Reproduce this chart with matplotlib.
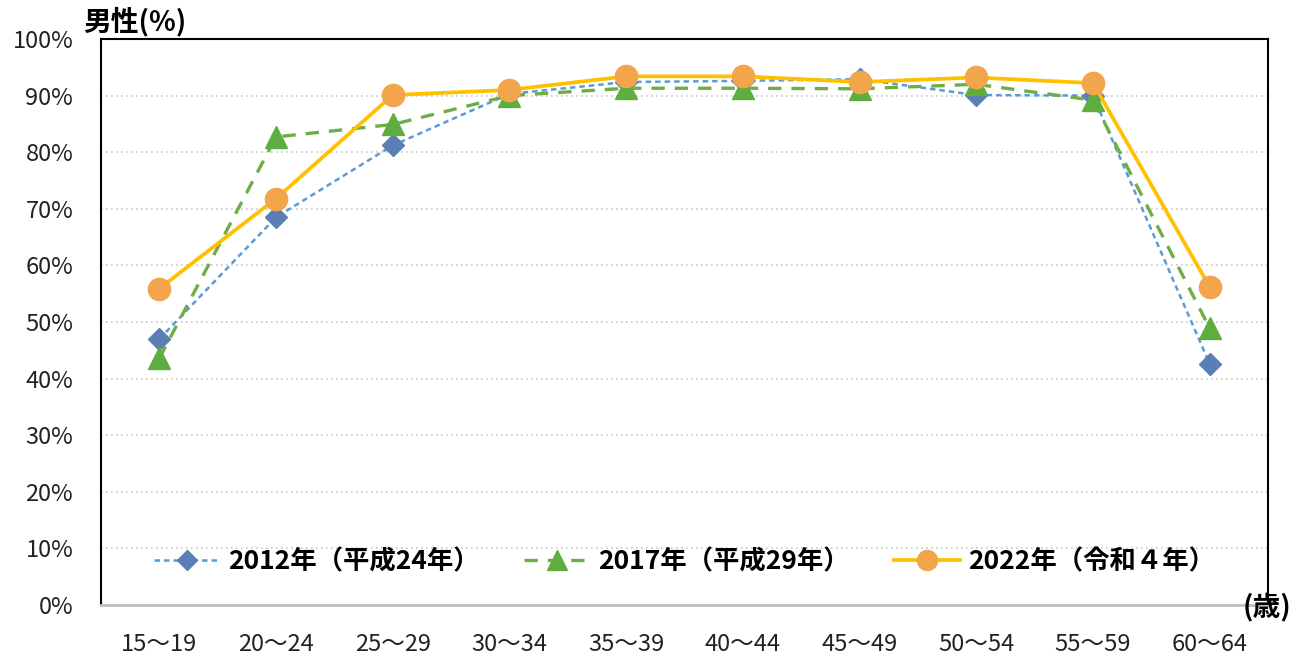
import matplotlib.pyplot as plt
import numpy as np

plt.rcParams['font.family'] = ['Noto Sans CJK JP', 'DejaVu Sans']

ages = ['15～19', '20～24', '25～29', '30～34', '35～39',
        '40～44', '45～49', '50～54', '55～59', '60～64']
y2012 = [47.0, 68.5, 81.2, 90.3, 92.4, 92.6, 92.9, 90.1, 90.0, 42.6]
y2017 = [43.6, 82.7, 84.9, 90.0, 91.3, 91.3, 91.2, 92.0, 89.2, 48.9]
y2022 = [55.9, 71.8, 90.1, 91.0, 93.4, 93.4, 92.4, 93.2, 92.2, 56.2]
labels = ['2012年（平成24年）', '2017年（平成29年）', '2022年（令和４年）']

fig = plt.figure(figsize=(12.93, 6.61), dpi=100)
ax = fig.add_axes([0.0781, 0.0847, 0.9026, 0.8563])
x = np.arange(len(ages))

ax.plot(x, y2012, color='#5B9BD5', lw=1.8, ls=(0, (2.2, 1.6)),
        marker='D', ms=11, mfc='#5A7FB4', mec='#5A7FB4', label=labels[0], zorder=3)
ax.plot(x, y2017, color='#70AD47', lw=2.4, ls=(0, (4, 3)),
        marker='^', ms=16, mfc='#5DAE3F', mec='#5DAE3F', label=labels[1], zorder=4)
ax.plot(x, y2022, color='#FFC000', lw=2.7, ls='-',
        marker='o', ms=16, mfc='#F2A54A', mec='#F2A54A', label=labels[2], zorder=5)

ax.set_xlim(-0.5, 9.5)
ax.set_ylim(0, 100)
ax.set_xticks(x)
ax.set_xticklabels(ages)
ax.set_yticks(np.arange(0, 101, 10))
ax.set_yticklabels([f'{v}%' for v in range(0, 101, 10)])
ax.tick_params(axis='both', length=0, labelsize=17, colors='#222222')
ax.tick_params(axis='y', pad=20)
ax.tick_params(axis='x', pad=20)

for v in range(10, 100, 10):
    ax.axhline(v, color='#C8C8C8', lw=1.2, ls=(0, (1, 2)), zorder=1)

for s in ['left', 'top', 'right']:
    ax.spines[s].set_color('black')
    ax.spines[s].set_linewidth(1.5)
ax.spines['bottom'].set_color('#BFBFBF')
ax.spines['bottom'].set_linewidth(2)

leg = ax.legend(loc='center', bbox_to_anchor=(0.5, 0.077), ncol=3, frameon=False,
                prop={'size': 19, 'weight': 'bold'}, handlelength=2.5,
                handletextpad=0.3, columnspacing=1.7, markerscale=0.9)

fig.text(0.064, 0.967, '男性(%)', fontsize=20, fontweight='bold', va='center')
fig.text(0.999, 0.08, '(歳)', fontsize=20, fontweight='bold', ha='right', va='center')

fig.savefig('out.png', dpi=100)
